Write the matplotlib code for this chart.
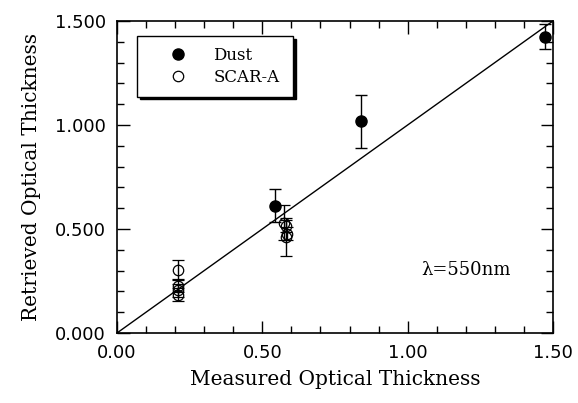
import matplotlib
matplotlib.use("Agg")
import matplotlib.pyplot as plt
from matplotlib.lines import Line2D
from matplotlib.ticker import MultipleLocator, FormatStrFormatter

# Dust cases (measured, retrieved, error)
dust_x = [0.545, 0.838, 1.472]
dust_y = [0.612, 1.017, 1.425]
dust_err = [0.078, 0.128, 0.062]

# SCAR-A cases
scar_x = [0.209, 0.209, 0.209, 0.209, 0.575, 0.580, 0.585, 0.580]
scar_y = [0.305, 0.225, 0.205, 0.185, 0.530, 0.515, 0.478, 0.462]
scar_err = [0.045, 0.03, 0.03, 0.03, 0.085, 0.03, 0.03, 0.09]

one_to_one = [0.0, 1.5]

serif = "DejaVu Serif"

fig = plt.figure(figsize=(5.78, 4.03), dpi=100)
ax = fig.add_axes([0.2024, 0.1737, 0.7543, 0.7742])

ax.plot(one_to_one, one_to_one, color="black", lw=1.0)

ax.errorbar(dust_x, dust_y, yerr=dust_err, fmt="o", color="black",
            mfc="black", mec="black", ms=8, elinewidth=1.0, capsize=4,
            capthick=1.0)
ax.errorbar(scar_x, scar_y, yerr=scar_err, fmt="o", color="black",
            mfc="none", mec="black", ms=7.5, mew=0.9, elinewidth=1.0,
            capsize=4, capthick=1.0)

ax.set_xlim(0, 1.5)
ax.set_ylim(0, 1.5)
ax.xaxis.set_major_locator(MultipleLocator(0.5))
ax.xaxis.set_minor_locator(MultipleLocator(0.1))
ax.yaxis.set_major_locator(MultipleLocator(0.5))
ax.yaxis.set_minor_locator(MultipleLocator(0.1))
ax.xaxis.set_major_formatter(FormatStrFormatter("%.2f"))
ax.yaxis.set_major_formatter(FormatStrFormatter("%.3f"))
ax.tick_params(which="both", direction="in", top=True, right=True,
               labelsize=13, width=1.0)
ax.tick_params(which="major", length=9, pad=8)
ax.tick_params(which="minor", length=5)
for s in ax.spines.values():
    s.set_linewidth(1.2)

ax.set_xlabel("Measured Optical Thickness", family=serif,
              fontsize=14.5, labelpad=6)
ax.set_ylabel("Retrieved Optical Thickness", family=serif,
              fontsize=14.5, labelpad=10)

ax.text(0.80, 0.202, "λ=550nm", transform=ax.transAxes,
        family=serif, fontsize=13, ha="center", va="center")

handles = [
    Line2D([], [], ls="none", marker="o", ms=8, mfc="black", mec="black"),
    Line2D([], [], ls="none", marker="o", ms=7.5, mfc="none", mec="black",
           mew=0.9),
]
leg = ax.legend(handles, ["Dust", "SCAR-A"], loc="upper left",
                bbox_to_anchor=(0.047, 0.952, 0.357, 0.0),
                mode="expand", borderaxespad=0, fancybox=False,
                edgecolor="black", framealpha=1,
                shadow={"color": "black", "alpha": 1},
                prop={"family": serif, "size": 12},
                handletextpad=0.3, borderpad=0.65, labelspacing=0.3,
                handlelength=3.6)
leg.get_frame().set_linewidth(1.0)

fig.savefig("out.png", dpi=100)
